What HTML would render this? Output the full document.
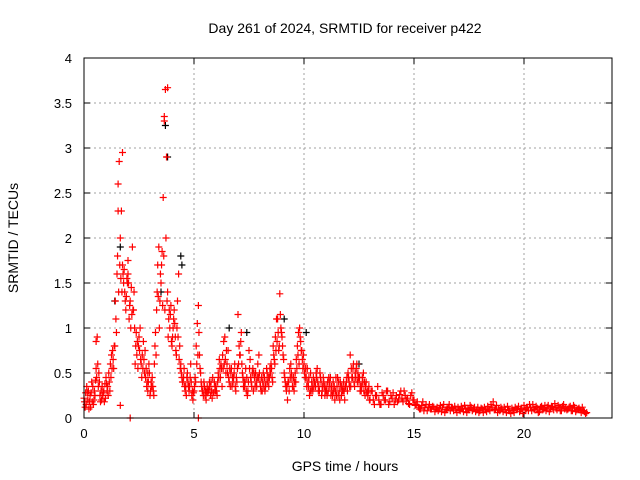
<!DOCTYPE html>
<html><head><meta charset="utf-8"><style>
html,body{margin:0;padding:0;background:#fff;}
svg{display:block;font-family:"Liberation Sans",sans-serif;}
</style></head><body>
<svg id="chart" width="640" height="480" viewBox="0 0 640 480">
<g id="grid"></g>
<g id="axes"></g>
<g id="marks"></g>
<rect x="84" y="58" width="528" height="360" fill="none" stroke="#000" stroke-width="1"/>
<text x="345" y="33" text-anchor="middle" font-size="14">Day 261 of 2024, SRMTID for receiver p422</text>
<text x="345" y="471" text-anchor="middle" font-size="14">GPS time / hours</text>
<text x="18" y="238" text-anchor="middle" font-size="14" transform="rotate(-90 18 238)">SRMTID / TECUs</text>
</svg>
<script>
const xTicks=[0,5,10,15,20];
const yTicks=[0,0.5,1,1.5,2,2.5,3,3.5,4];
const yTickLabels=["0","0.5","1","1.5","2","2.5","3","3.5","4"];
const startA=0, startB=0.05, startC=0.025, startD=0.075, stepHour=0.1;
const seriesA=[0.22,0.15,0.30,0.12,0.35,0.25,0.90,0.40,0.20,0.30,
0.45,0.25,0.60,0.75,0.80,1.60,2.85,2.30,1.50,1.20,
1.60,1.30,1.90,1.00,0.70,0.90,0.60,0.85,0.45,0.30,
0.25,0.45,0.60,1.20,1.90,1.50,2.45,3.65,1.40,1.00,
0.80,1.20,0.70,1.60,0.60,0.40,0.30,0.50,0.35,0.25,
0.30,0.80,1.25,0.50,0.30,0.25,0.35,0.40,0.30,0.28,
0.35,0.50,0.45,0.70,0.90,0.60,0.40,0.55,0.45,0.30,
1.15,0.70,0.50,0.35,0.45,0.75,0.40,0.30,0.50,0.60,
0.40,0.30,0.45,0.55,0.35,0.60,0.80,0.90,1.10,1.38,
0.90,0.50,0.30,0.40,0.60,0.35,0.50,0.80,1.00,0.75,
0.60,0.45,0.35,0.50,0.30,0.40,0.55,0.30,0.25,0.40,
0.35,0.30,0.45,0.25,0.20,0.35,0.30,0.25,0.40,0.35,
0.50,0.70,0.45,0.35,0.60,0.40,0.30,0.50,0.35,0.25,
0.20,0.30,0.15,0.25,0.20,0.15,0.25,0.20,0.30,0.18,
0.22,0.15,0.25,0.20,0.30,0.18,0.25,0.22,0.15,0.28,
0.20,0.15,0.12,0.10,0.18,0.12,0.08,0.15,0.10,0.12,
0.10,0.08,0.14,0.12,0.06,0.10,0.15,0.12,0.08,0.10,
0.12,0.08,0.10,0.14,0.06,0.09,0.12,0.10,0.07,0.12,
0.08,0.10,0.12,0.07,0.10,0.15,0.18,0.10,0.06,0.08,
0.10,0.12,0.06,0.09,0.05,0.08,0.12,0.10,0.07,0.11,
0.14,0.10,0.08,0.12,0.15,0.09,0.11,0.07,0.13,0.10,
0.08,0.14,0.10,0.12,0.16,0.09,0.12,0.08,0.15,0.11,
0.10,0.13,0.08,0.12,0.09,0.11,0.06,0.08,0.05];
const seriesB=[0.12,0.28,0.18,0.40,0.20,0.55,0.35,0.18,0.25,0.38,
0.30,0.40,0.70,0.55,1.10,2.60,2.00,1.70,1.40,1.55,
1.10,1.45,1.20,0.80,0.55,1.00,0.70,0.50,0.35,0.60,
0.40,0.30,0.95,1.70,1.30,1.85,3.30,2.90,1.10,1.25,
1.00,0.90,1.30,0.80,0.45,0.55,0.25,0.35,0.60,0.20,
0.45,1.05,0.70,0.35,0.40,0.20,0.30,0.25,0.45,0.35,
0.25,0.65,0.55,0.85,0.50,0.75,0.35,0.45,0.60,0.40,
0.80,0.95,0.35,0.55,0.30,0.65,0.50,0.45,0.35,0.70,
0.30,0.50,0.35,0.40,0.55,0.45,0.65,1.10,0.75,1.00,
0.70,0.40,0.20,0.55,0.45,0.30,0.65,0.95,0.85,0.55,
0.45,0.55,0.25,0.40,0.35,0.50,0.30,0.45,0.35,0.25,
0.25,0.40,0.35,0.30,0.45,0.25,0.40,0.30,0.20,0.45,
0.40,0.55,0.60,0.45,0.50,0.30,0.45,0.40,0.28,0.35,
0.30,0.20,0.25,0.35,0.15,0.28,0.20,0.30,0.15,0.25,
0.28,0.20,0.18,0.26,0.22,0.30,0.20,0.16,0.25,0.20,
0.14,0.18,0.10,0.14,0.08,0.15,0.12,0.10,0.13,0.07,
0.12,0.10,0.07,0.15,0.09,0.12,0.08,0.11,0.13,0.06,
0.09,0.13,0.07,0.11,0.10,0.14,0.08,0.12,0.09,0.06,
0.11,0.06,0.09,0.13,0.08,0.12,0.09,0.14,0.10,0.12,
0.07,0.09,0.13,0.08,0.11,0.06,0.10,0.13,0.09,0.05,
0.09,0.12,0.15,0.08,0.10,0.13,0.06,0.12,0.09,0.14,
0.12,0.07,0.13,0.09,0.11,0.14,0.08,0.13,0.10,0.09,
0.12,0.08,0.14,0.07,0.10,0.09,0.12,0.07,0.06];
const seriesC=[0.18,0.35,0.10,0.28,0.15,0.42,0.60,0.25,0.35,0.18,
0.38,0.50,0.45,0.65,1.30,1.80,1.70,1.40,1.65,1.35,
1.50,1.00,1.20,0.60,0.85,0.75,0.45,0.65,0.55,0.40,
0.30,0.35,0.80,1.40,1.00,1.70,1.80,2.00,0.90,1.15,
0.90,1.05,1.00,0.65,0.50,0.45,0.35,0.40,0.45,0.30,
0.35,0.60,0.95,0.40,0.25,0.30,0.28,0.35,0.22,0.40,
0.30,0.45,0.60,0.55,0.65,0.50,0.55,0.35,0.50,0.45,
0.60,0.85,0.45,0.40,0.25,0.55,0.35,0.50,0.40,0.45,
0.35,0.40,0.30,0.50,0.45,0.55,0.70,0.75,0.95,1.15,
0.80,0.45,0.35,0.30,0.50,0.45,0.40,0.70,0.90,0.65,
0.50,0.35,0.45,0.30,0.45,0.35,0.40,0.50,0.30,0.35,
0.30,0.45,0.25,0.40,0.30,0.45,0.20,0.35,0.30,0.40,
0.45,0.35,0.55,0.50,0.40,0.45,0.35,0.30,0.40,0.30];
const seriesD=[0.28,0.20,0.25,0.18,0.30,0.45,0.50,0.30,0.28,0.22,
0.35,0.30,0.55,0.80,0.95,1.40,1.55,1.60,1.30,1.50,
1.25,1.15,1.40,0.95,0.80,0.65,0.55,0.75,0.40,0.50,
0.35,0.25,0.70,1.35,1.60,1.25,1.20,1.30,1.20,0.85,
1.10,0.75,0.90,0.55,0.40,0.35,0.45,0.30,0.40,0.28,
0.40,0.70,0.55,0.30,0.35,0.28,0.32,0.40,0.28,0.30,
0.40,0.55,0.35,0.60,0.75,0.45,0.50,0.40,0.35,0.55,
0.70,0.60,0.40,0.30,0.40,0.45,0.55,0.35,0.45,0.50,
0.45,0.35,0.40,0.45,0.50,0.40,0.60,0.85,0.80,0.95,
0.65,0.35,0.40,0.45,0.35,0.40,0.55,0.60,0.75,0.70,
0.55,0.40,0.30,0.35,0.40,0.45,0.35,0.40,0.45,0.30,
0.40,0.35,0.30,0.35,0.25,0.40,0.35,0.30,0.35,0.30,
0.35,0.45,0.40,0.55,0.45,0.35,0.40,0.25,0.30,0.20];
const extraHours=[1.65,2.1,5.2,1.55,1.75,3.65,3.8,2.0,2.9,0.55];
const extraValues=[0.14,0.0,0.0,2.3,2.95,3.35,3.67,1.75,0.5,0.85];
const blackHours=[1.65,3.7,3.8,4.4,4.45,6.6,7.4,9.1,10.1,12.5,1.4,3.5];
const blackValues=[1.9,3.25,2.9,1.8,1.7,1.0,0.95,1.1,0.95,0.6,1.3,1.4];

const X0=84,X1=612,Y0=418,Y1=58,XMAX=24,YMAX=4;
function xs(h){return X0+h/XMAX*(X1-X0);}
function ys(v){return Y0-v/YMAX*(Y0-Y1);}
const NS="http://www.w3.org/2000/svg";
const grid=document.getElementById('grid'),axes=document.getElementById('axes'),marks=document.getElementById('marks');
function mk(tag,attrs,parent){const e=document.createElementNS(NS,tag);for(const k in attrs)e.setAttribute(k,attrs[k]);parent.appendChild(e);return e;}
xTicks.forEach(t=>{
  const x=xs(t);
  if(t>0){const g=mk('line',{x1:x,x2:x,y1:Y1,y2:Y0,stroke:'#a0a0a0','stroke-dasharray':'2,3'},grid);
  
  }
  const a=mk('line',{x1:x,x2:x,y1:Y0,y2:Y0-6,stroke:'#000'},axes);
  
  
  const b=mk('line',{x1:x,x2:x,y1:Y1,y2:Y1+6,stroke:'#000'},axes);
  
  
  const l=mk('text',{x:x,y:Y0+20,'text-anchor':'middle','font-size':'13'},axes);l.textContent=String(t);
  
  
});
yTicks.forEach((t,i)=>{
  const y=ys(t);
  if(t>0&&t<YMAX){const g=mk('line',{x1:X0,x2:X1,y1:y,y2:y,stroke:'#a0a0a0','stroke-dasharray':'2,3'},grid);
  
  }
  const a=mk('line',{x1:X0,x2:X0+6,y1:y,y2:y,stroke:'#000'},axes);
  
  
  const b=mk('line',{x1:X1,x2:X1-6,y1:y,y2:y,stroke:'#000'},axes);
  
  
  const l=mk('text',{x:X0-12,y:y+5,'text-anchor':'end','font-size':'13'},axes);l.textContent=yTickLabels[i];
  
  
});
function cross(h,v,color,name){
  const x=xs(h),y=ys(v),s=3.5;
  const p=mk('path',{d:`M${x-s},${y}H${x+s}M${x},${y-s}V${y+s}`,stroke:color,'stroke-width':'1.2',fill:'none'},marks);
  
  
}
blackHours.forEach((h,i)=>cross(h,blackValues[i],'#000','black-point'));
seriesA.forEach((v,i)=>cross(startA+i*stepHour,v,'#f00','red-point'));
seriesB.forEach((v,i)=>cross(startB+i*stepHour,v,'#f00','red-point'));
seriesC.forEach((v,i)=>cross(startC+i*stepHour,v,'#f00','red-point'));
seriesD.forEach((v,i)=>cross(startD+i*stepHour,v,'#f00','red-point'));
extraHours.forEach((h,i)=>cross(h,extraValues[i],'#f00','red-point'));
</script>
</body></html>
